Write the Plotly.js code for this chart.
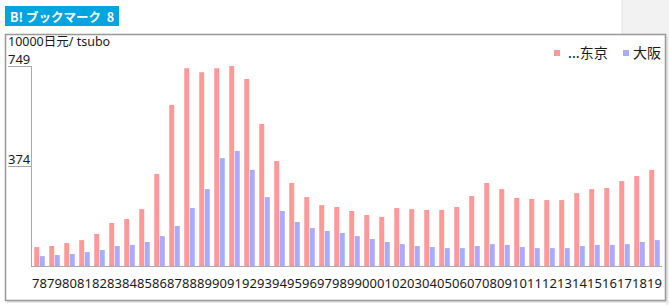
<!DOCTYPE html>
<html>
<head>
<meta charset="utf-8">
<script src="https://cdn.plot.ly/plotly-3.0.1.min.js"></script>
<style>html,body{margin:0;padding:0;background:#fff;}#chart{width:669px;height:305px;}</style>
</head>
<body>
<div id="chart"></div>
<script>
// ---- data ----
const years = ["78","79","80","81","82","83","84","85","86","87","88","89","90","91","92","93","94","95","96","97","98","99","00","01","02","03","04","05","06","07","08","09","10","11","12","13","14","15","16","17","18","19"];
const tokyo = [71,75,86,97,120,161,176,213,345,603,741,726,741,749,700,532,393,311,258,228,221,206,191,184,217,213,210,210,221,262,311,288,255,251,247,247,273,288,292,318,337,360];
const osaka = [37,41,45,52,60,75,79,90,112,150,217,288,404,431,360,258,206,165,142,131,124,112,101,90,82,75,71,67,67,75,82,79,71,67,67,67,75,79,79,82,90,97];
const seriesNames = ["...东京", "大阪"];
const seriesColors = ["#ff9999", "#aaaaff"];
const yTicks = [374, 749];
const yTitle = "10000日元/ tsubo";
const badgeText = "B! ブックマーク&nbsp;&nbsp;8";

// ---- pixel helpers (plot area 32..662 x 66..266) ----
const L = 32, R = 662, T = 66, B = 266;
const px = p => (p - L) / (R - L);
const py = p => (B - p) / (B - T);
const FONT = "Noto Sans, Noto Sans CJK JP, sans-serif";
const CJK = "Noto Sans CJK JP, Noto Sans, sans-serif";

const traces = [
  {type: "bar", x: years, y: tokyo, name: seriesNames[0], marker: {color: seriesColors[0]}, hoverinfo: "none"},
  {type: "bar", x: years, y: osaka, name: seriesNames[1], marker: {color: seriesColors[1]}, hoverinfo: "none"}
];

const shapes = [
  {type: "rect", xref: "paper", yref: "paper", x0: px(622), x1: px(669), y0: py(0), y1: py(34), fillcolor: "#f2f2f2", line: {width: 0}, layer: "below"},
  {type: "line", xref: "paper", yref: "paper", x0: px(622), x1: px(622), y0: py(0), y1: py(34), line: {color: "#e2e2e2", width: 1}},
  {type: "rect", xref: "paper", yref: "paper", x0: px(666), x1: px(669), y0: py(34), y1: py(305), fillcolor: "#f2f2f2", line: {width: 0}, layer: "below"},
  {type: "rect", xref: "paper", yref: "paper", x0: px(7), x1: px(668), y0: py(300), y1: py(303), fillcolor: "#e4e4e4", line: {width: 0}, layer: "below"},
  {type: "rect", xref: "paper", yref: "paper", x0: px(665), x1: px(668), y0: py(36), y1: py(303), fillcolor: "#e4e4e4", line: {width: 0}, layer: "below"},
  {type: "rect", xref: "paper", yref: "paper", x0: px(5.5), x1: px(665.5), y0: py(34.5), y1: py(300.5), fillcolor: "rgba(0,0,0,0)", line: {color: "#999999", width: 1.5}},
  {type: "rect", xref: "paper", yref: "paper", x0: px(554), x1: px(560), y0: py(50), y1: py(56), fillcolor: seriesColors[0], line: {width: 0}},
  {type: "rect", xref: "paper", yref: "paper", x0: px(623), x1: px(629), y0: py(50), y1: py(56), fillcolor: seriesColors[1], line: {width: 0}},
  // badge background
  {type: "rect", xref: "paper", yref: "paper", x0: px(5), x1: px(119), y0: py(6), y1: py(26), fillcolor: "#00a4de", line: {width: 0}}
];

const annotations = [
  {xref: "paper", yref: "paper", x: px(62), y: py(16), xanchor: "center", yanchor: "middle", showarrow: false,
   text: "<b>" + badgeText + "</b>", font: {family: CJK, size: 12.5, color: "#ffffff"}, borderpad: 0},
  {xref: "paper", yref: "paper", x: px(7), y: py(42), xanchor: "left", yanchor: "middle", showarrow: false,
   text: yTitle, font: {family: FONT, size: 12.5, color: "#1a1a1a"}, borderpad: 0, height: 13},
  {xref: "paper", yref: "paper", x: px(566), y: py(52), xanchor: "left", yanchor: "middle", showarrow: false,
   text: seriesNames[0], font: {family: CJK, size: 14, color: "#1a1a1a"}},
  {xref: "paper", yref: "paper", x: px(631), y: py(52), xanchor: "left", yanchor: "middle", showarrow: false,
   text: seriesNames[1], font: {family: CJK, size: 14, color: "#1a1a1a"}}
];
yTicks.forEach(v => annotations.push({
  xref: "paper", yref: "y", x: px(7), y: v, xanchor: "left", yanchor: "bottom", showarrow: false,
  text: String(v), font: {family: FONT, size: 13, color: "#1a1a1a"}, borderpad: 0, height: 13, yshift: 0
}));

const layout = {
  width: 669, height: 305,
  margin: {l: L, r: 669 - R, t: T, b: 305 - B, pad: 0},
  paper_bgcolor: "#ffffff", plot_bgcolor: "#ffffff",
  showlegend: false,
  barmode: "group", bargap: 0.26, bargroupgap: 0.1,
  font: {family: FONT, size: 13, color: "#1a1a1a"},
  xaxis: {type: "category", tickmode: "array", tickvals: years, ticktext: years, tickangle: 0,
          showgrid: false, zeroline: false, showline: true, linecolor: "#aaaaaa", linewidth: 1,
          ticks: "outside", ticklen: 5, tickcolor: "rgba(0,0,0,0)", tickfont: {family: FONT, size: 13, color: "#1a1a1a"},
          fixedrange: true, automargin: false},
  yaxis: {range: [0, 749], showgrid: false, zeroline: false, showline: true, linecolor: "#aaaaaa", linewidth: 1,
          tickvals: yTicks, ticks: "outside", ticklen: 23, tickcolor: "#aaaaaa", tickwidth: 1,
          showticklabels: false, fixedrange: true, automargin: false},
  shapes: shapes, annotations: annotations
};

Plotly.newPlot("chart", traces, layout, {displayModeBar: false, staticPlot: true});
</script>
</body>
</html>
